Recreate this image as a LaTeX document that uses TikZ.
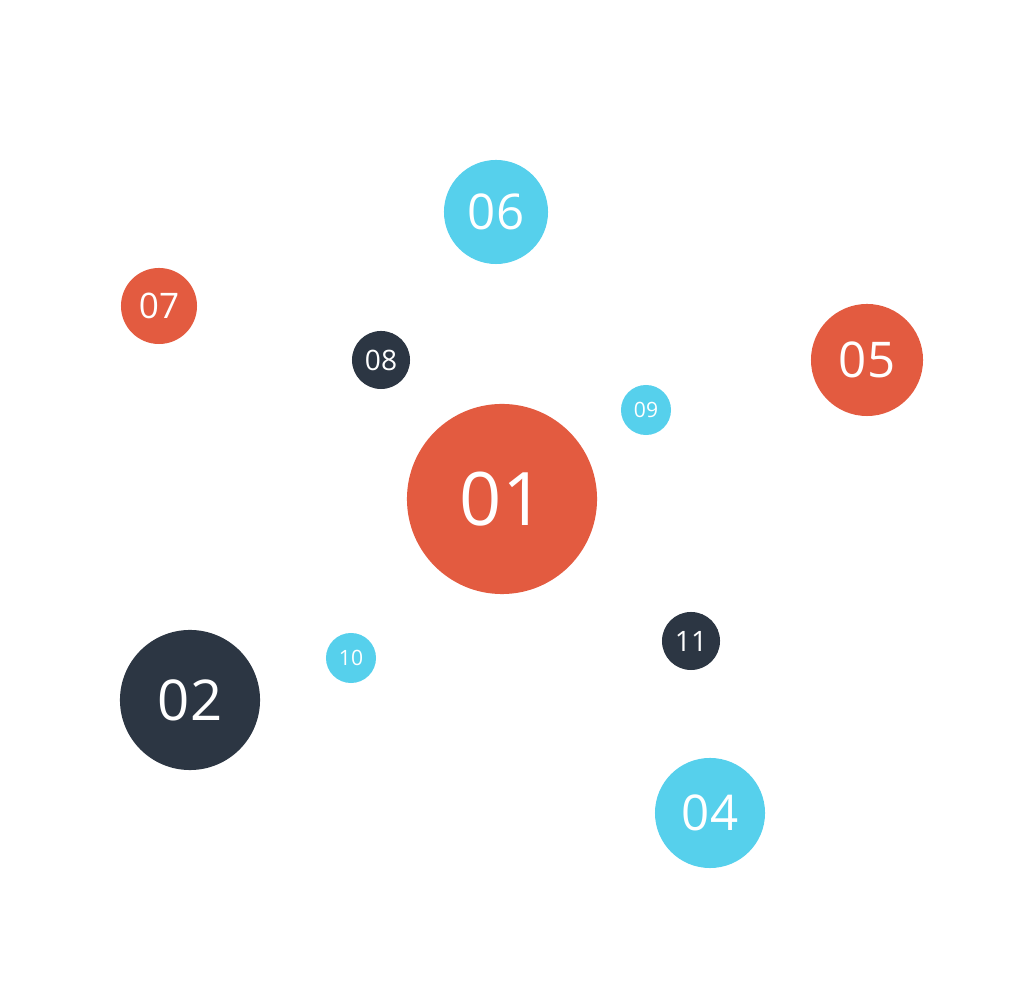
\documentclass[tikz,border=0pt]{standalone}
\usepackage{fontspec}
\setmainfont{Open Sans}
\definecolor{hubred}{HTML}{E35B40}
\definecolor{hubdark}{HTML}{2C3643}
\definecolor{hubcyan}{HTML}{56D0EC}
\definecolor{linkgray}{HTML}{5A5A5A}
\tikzset{
% circle nodes of the network, size given by radius
hub/.style={circle,inner sep=0,minimum size=#1,text=white},
red hub/.style={hub=#1,fill=hubred},
dark hub/.style={hub=#1,fill=hubdark},
cyan hub/.style={hub=#1,fill=hubcyan},
link/.style={draw=linkgray,line width=1.9pt}
}
\begin{document}
\begin{tikzpicture}[x=0.01cm,y=-0.01cm]
\useasboundingbox (0,0) rectangle (1024,1007);
% The nodes
\node(n01)[red hub=1.9cm,font=\fontsize{21}{21}\selectfont] at (502,499){01};
\node(n02)[dark hub=1.4cm,font=\fontsize{16}{16}\selectfont] at (190,700){02};
\node(n04)[cyan hub=1.1cm,font=\fontsize{14}{14}\selectfont] at (710,813){04};
\node(n05)[red hub=1.12cm,font=\fontsize{14}{14}\selectfont] at (867,360){05};
\node(n06)[cyan hub=1.04cm,font=\fontsize{14}{14}\selectfont] at (496,212){06};
\node(n07)[red hub=0.76cm,font=\fontsize{10}{10}\selectfont] at (159,306){07};
\node(n08)[dark hub=0.58cm,font=\fontsize{8}{8}\selectfont] at (381,360){08};
\node(n09)[cyan hub=0.5cm,font=\fontsize{6}{6}\selectfont] at (646,410){09};
\node(n10)[cyan hub=0.5cm,font=\fontsize{6}{6}\selectfont] at (351,658){10};
\node(n11)[dark hub=0.58cm,font=\fontsize{8}{8}\selectfont] at (691,641){11};
% The links, behind the nodes
\begin{scope}[on background layer/.style={}]
\end{scope}
\pgfsetlayers{main}
\begin{pgfonlayer}{main}\end{pgfonlayer}
\end{tikzpicture}
\end{document}
